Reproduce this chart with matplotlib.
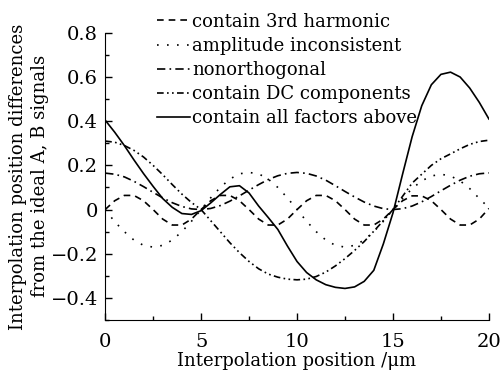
import numpy as np
import matplotlib.pyplot as plt
from matplotlib.ticker import MultipleLocator, FuncFormatter

# interpolation position, um (sampled every 0.5 um)
position = np.arange(0, 20.01, 0.5)

# values
third_harmonic = [
    0.0, 0.04, 0.064, 0.064, 0.04, 0.0, -0.043, -0.07, -0.07, -0.043,
    0.0, 0.04, 0.064, 0.064, 0.04, 0.0, -0.043, -0.07, -0.07, -0.043,
    0.0, 0.04, 0.064, 0.064, 0.04, 0.0, -0.043, -0.07, -0.07, -0.043,
    0.0, 0.04, 0.062, 0.062, 0.04, 0.0, -0.043, -0.07, -0.07, -0.043,
    0.005]
amplitude = [
    0.0, -0.055, -0.1, -0.138, -0.162, -0.17, -0.162, -0.138, -0.1, -0.053,
    0.0, 0.053, 0.1, 0.138, 0.162, 0.168, 0.162, 0.138, 0.1, 0.053,
    0.0, -0.053, -0.1, -0.138, -0.162, -0.17, -0.162, -0.138, -0.1, -0.053,
    0.0, 0.05, 0.095, 0.13, 0.152, 0.16, 0.152, 0.13, 0.095, 0.05,
    0.008]
nonorthogonal = [
    0.165, 0.16, 0.148, 0.128, 0.104, 0.078, 0.053, 0.031, 0.014, 0.003,
    0.0, 0.005, 0.018, 0.038, 0.062, 0.088, 0.113, 0.136, 0.153, 0.164,
    0.168, 0.164, 0.152, 0.133, 0.108, 0.082, 0.057, 0.034, 0.016, 0.004,
    0.0, 0.004, 0.016, 0.035, 0.059, 0.085, 0.11, 0.133, 0.151, 0.162,
    0.166]
dc_component = [
    0.31, 0.305, 0.29, 0.268, 0.238, 0.2, 0.158, 0.113, 0.07, 0.032,
    0.0, -0.05, -0.1, -0.15, -0.195, -0.235, -0.268, -0.292, -0.306, -0.315,
    -0.318, -0.315, -0.303, -0.283, -0.255, -0.222, -0.185, -0.145, -0.098, -0.05,
    0.0, 0.06, 0.12, 0.16, 0.2, 0.23, 0.252, 0.275, 0.295, 0.308,
    0.314]
all_factors = [
    0.405, 0.35, 0.29, 0.225, 0.163, 0.105, 0.05, 0.01, -0.018, -0.022,
    -0.005, 0.03, 0.068, 0.103, 0.108, 0.075, 0.016, -0.036, -0.09, -0.165,
    -0.235, -0.285, -0.318, -0.34, -0.352, -0.357, -0.35, -0.325, -0.275, -0.155,
    -0.015, 0.16, 0.33, 0.47, 0.565, 0.612, 0.622, 0.6, 0.55, 0.485,
    0.41]

labels = ['contain 3rd harmonic', 'amplitude inconsistent', 'nonorthogonal',
          'contain DC components', 'contain all factors above']

plt.rcParams['font.family'] = ['DejaVu Serif']
plt.rcParams['mathtext.fontset'] = 'dejavuserif'

fig = plt.figure(figsize=(5.03, 3.73), dpi=100)
ax = fig.add_axes([0.209, 0.142, 0.763, 0.770])

lw = 1.2
ax.plot(position, third_harmonic, color='k', lw=lw, ls=(0, (4, 3)), label=labels[0])
ax.plot(position, amplitude, color='k', lw=lw, ls=(0, (1, 5)), label=labels[1])
ax.plot(position, nonorthogonal, color='k', lw=lw, ls=(0, (5, 2.5, 1, 2.5)), label=labels[2])
ax.plot(position, dc_component, color='k', lw=lw, ls=(0, (4, 2, 1, 2, 1, 2)), label=labels[3])
ax.plot(position, all_factors, color='k', lw=lw, ls='-', label=labels[4])

ax.set_xlim(0, 20)
ax.set_ylim(-0.5, 0.8)
ax.spines['top'].set_visible(False)
ax.spines['right'].set_visible(False)
ax.xaxis.set_major_locator(MultipleLocator(5))
ax.xaxis.set_minor_locator(MultipleLocator(2.5))
ax.yaxis.set_major_locator(MultipleLocator(0.2))
ax.yaxis.set_minor_locator(MultipleLocator(0.1))
ax.yaxis.set_major_formatter(FuncFormatter(
    lambda v, p: '0' if abs(v) < 1e-9 else f'{v:.1f}'.replace('-', '\u2212')))
ax.tick_params(which='major', direction='in', length=5, width=1, labelsize=14)
ax.tick_params(which='minor', direction='in', length=3, width=1)
ax.tick_params(axis='x', which='major', pad=9)
ax.tick_params(axis='y', which='major', pad=5)

ax.set_xlabel('Interpolation position /\u03bcm', fontsize=13, labelpad=1)
ax.set_ylabel('Interpolation position differences\nfrom the ideal A, B signals',
              fontsize=13, labelpad=1, linespacing=1.35)

ax.legend(loc='upper left', bbox_to_anchor=(0.135, 1.07), frameon=False,
          fontsize=13, handlelength=1.85, handletextpad=0.1, labelspacing=0.34,
          borderpad=0, borderaxespad=0)

fig.savefig('out.png', dpi=100)
